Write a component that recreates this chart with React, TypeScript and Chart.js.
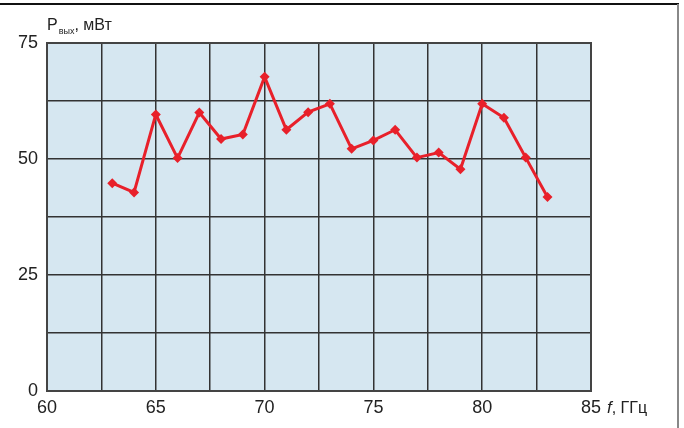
import React, { useEffect, useRef } from 'react';
import { Chart, registerables } from 'chart.js';
Chart.register(...registerables);

const freqs = [63, 64, 65, 66, 67, 68, 69, 70, 71, 72, 73, 74, 75, 76, 77, 78, 79, 80, 81, 82, 83];
const power = [44.8, 42.8, 59.6, 50.2, 60.0, 54.3, 55.3, 67.7, 56.3, 60.1, 61.9, 52.2, 54.0, 56.3, 50.3, 51.4, 47.8, 61.9, 58.9, 50.3, 41.8];
const xLabelTicks = [60, 65, 70, 75, 80, 85];
const yLabelTicks = [0, 25, 50, 75];

const FONT = '"Liberation Sans", "DejaVu Sans", sans-serif';

const decor = {
  id: 'decor',
  beforeDraw(chart: any) {
    const { ctx, chartArea: a } = chart;
    ctx.save();
    ctx.fillStyle = '#d6e7f1';
    ctx.fillRect(a.left, a.top, a.right - a.left, a.bottom - a.top);
    ctx.restore();
  },
  afterDraw(chart: any) {
    const { ctx, chartArea: a } = chart;
    ctx.save();
    // frame
    ctx.strokeStyle = '#111';
    ctx.lineWidth = 2;
    ctx.beginPath();
    ctx.moveTo(0, 4);
    ctx.lineTo(679, 4);
    ctx.stroke();
    ctx.strokeStyle = '#888';
    ctx.beginPath();
    ctx.moveTo(678, 4);
    ctx.lineTo(678, 428);
    ctx.stroke();
    // y title
    ctx.fillStyle = '#222';
    ctx.textBaseline = 'alphabetic';
    ctx.textAlign = 'left';
    ctx.font = `16px ${FONT}`;
    let x = a.left;
    const by = 30;
    ctx.fillText('P', x, by);
    x += ctx.measureText('P').width + 1;
    ctx.font = `9px ${FONT}`;
    ctx.fillText('вых', x, by + 4);
    x += ctx.measureText('вых').width;
    ctx.font = `16px ${FONT}`;
    ctx.fillText(', мВт', x, by);
    // x title
    const bx = 413;
    let xx = a.right + 16;
    ctx.font = `italic 17px ${FONT}`;
    ctx.fillText('f', xx, bx);
    xx += ctx.measureText('f').width;
    ctx.font = `16px ${FONT}`;
    ctx.fillText(', ГГц', xx, bx);
    // plot border
    ctx.strokeStyle = '#444';
    ctx.lineWidth = 2;
    ctx.strokeRect(a.left, a.top, a.right - a.left, a.bottom - a.top);
    ctx.restore();
  },
};

export default function App() {
  const ref = useRef<HTMLCanvasElement>(null);
  useEffect(() => {
    document.body.style.margin = '0';
    const chart = new Chart(ref.current!, {
      type: 'line',
      data: {
        datasets: [
          {
            data: freqs.map((f, i) => ({ x: f, y: power[i] })),
            borderColor: '#e8202a',
            backgroundColor: '#e8202a',
            borderWidth: 3,
            pointStyle: 'rectRot',
            pointRadius: 5,
            pointBorderWidth: 0,
            tension: 0,
          },
        ],
      },
      options: {
        animation: false,
        responsive: false,
        maintainAspectRatio: false,
        layout: { padding: { top: 43, right: 93, left: 0, bottom: 0 } },
        plugins: { legend: { display: false }, tooltip: { enabled: false } },
        scales: {
          x: {
            type: 'linear',
            min: 60,
            max: 85,
            border: { display: false },
            grid: { color: '#333', lineWidth: 1.5, drawTicks: false },
            afterFit: (s: any) => { s.height = 37; },
            ticks: {
              stepSize: 2.5,
              autoSkip: false,
              maxRotation: 0,
              padding: 6,
              color: '#222',
              font: { family: FONT, size: 18 },
              callback: (v: any) => (xLabelTicks.includes(Number(v)) ? String(v) : ''),
            },
          },
          y: {
            min: 0,
            max: 75,
            border: { display: false },
            grid: { color: '#333', lineWidth: 1.5, drawTicks: false },
            afterFit: (s: any) => { s.width = 47; },
            ticks: {
              stepSize: 12.5,
              autoSkip: false,
              padding: 9,
              color: '#222',
              font: { family: FONT, size: 18 },
              callback: (v: any) => (yLabelTicks.includes(Number(v)) ? String(v) : ''),
            },
          },
        },
      },
      plugins: [decor],
    });
    return () => chart.destroy();
  }, []);
  return (
    <div style={{ position: 'absolute', left: 0, top: 0, width: 684, height: 428 }}>
      <canvas ref={ref} width={684} height={428} style={{ width: 684, height: 428 }} />
    </div>
  );
}
